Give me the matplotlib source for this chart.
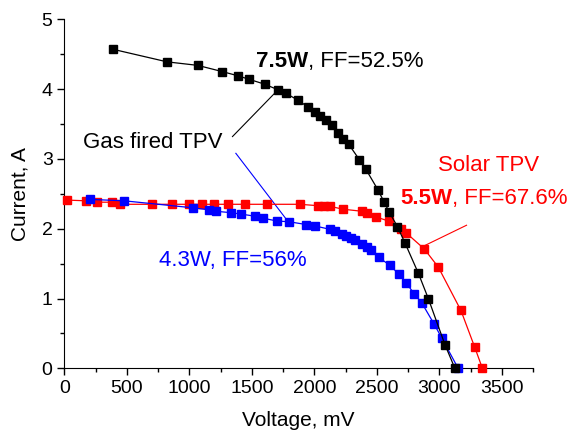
import matplotlib
matplotlib.use("Agg")
import matplotlib.pyplot as plt
from matplotlib import transforms
from matplotlib.ticker import MultipleLocator

plt.rcParams['font.family'] = ['Liberation Sans', 'DejaVu Sans']

# Gas fired TPV, 7.5 W
gas_v = [389, 822, 1066, 1265, 1390, 1478, 1603, 1709, 1771, 1871, 1951, 2004, 2049,
         2094, 2142, 2190, 2229, 2275, 2360, 2413, 2508, 2559, 2599, 2665, 2727, 2833,
         2912, 3045, 3125]
gas_i = [4.57, 4.39, 4.34, 4.25, 4.19, 4.14, 4.07, 3.99, 3.94, 3.84, 3.74, 3.67, 3.62,
         3.56, 3.49, 3.37, 3.29, 3.21, 2.99, 2.85, 2.56, 2.38, 2.24, 2.03, 1.79, 1.36,
         1.00, 0.34, 0.0]

# Gas fired TPV, 4.3 W
blue_v = [203, 477, 1026, 1159, 1213, 1332, 1412, 1523, 1590, 1704, 1797, 1935, 2004,
          2129, 2163, 2222, 2254, 2293, 2328, 2381, 2421, 2456, 2514, 2602, 2676, 2737,
          2798, 2859, 2960, 3018, 3151]
blue_i = [2.42, 2.40, 2.30, 2.27, 2.25, 2.23, 2.21, 2.18, 2.15, 2.11, 2.10, 2.06, 2.04,
          1.99, 1.97, 1.93, 1.90, 1.86, 1.84, 1.78, 1.74, 1.70, 1.59, 1.48, 1.35, 1.22,
          1.07, 0.94, 0.63, 0.44, 0.0]

# Solar TPV, 5.5 W
red_v = [22, 171, 261, 381, 442, 703, 862, 1000, 1098, 1199, 1313, 1444, 1619, 1882,
         2030, 2076, 2129, 2227, 2381, 2421, 2492, 2594, 2695, 2735, 2880, 2992, 3173,
         3284, 3345]
red_i = [2.41, 2.40, 2.38, 2.38, 2.35, 2.35, 2.35, 2.35, 2.35, 2.35, 2.35, 2.35, 2.35,
         2.35, 2.33, 2.32, 2.32, 2.28, 2.25, 2.22, 2.17, 2.11, 2.00, 1.94, 1.71, 1.45,
         0.83, 0.30, 0.0]

fig = plt.figure(figsize=(5.75, 4.38), dpi=100)
ax = fig.add_axes([0.112, 0.159, 0.815, 0.797])

ms = 5.5
ax.plot(red_v, red_i, color='red', marker='s', ms=ms, lw=0.9, clip_on=False, zorder=3)
ax.plot(blue_v, blue_i, color='blue', marker='s', ms=ms, lw=0.9, clip_on=False, zorder=3)
ax.plot(gas_v, gas_i, color='black', marker='s', ms=ms, lw=0.9, clip_on=False, zorder=4)

fs = 16


def two_part(x, y, bold, rest, color):
    # bold power value followed by plain text
    tb = ax.text(x, y, bold, fontsize=fs, fontweight='bold', color=color,
                 va='center', ha='left')
    fig.canvas.draw()
    w = tb.get_window_extent().width
    tr = transforms.offset_copy(ax.transData, fig=fig, x=w, units='dots')
    ax.text(x, y, rest, fontsize=fs, color=color, va='center', ha='left', transform=tr)


ax.text(145, 3.23, 'Gas fired TPV', fontsize=fs, va='center', ha='left')
ax.plot([1345, 1704], [3.32, 3.98], color='black', lw=0.8)
ax.plot([1372, 1791], [3.08, 2.10], color='blue', lw=0.8)
ax.text(2986, 2.91, 'Solar TPV', fontsize=fs, va='center', ha='left', color='red')
ax.plot([3218, 2873], [2.05, 1.75], color='red', lw=0.8)
ax.text(761, 1.55, '4.3W, FF=56%', fontsize=fs, va='center', ha='left', color='blue')

ax.set_xlim(0, 3750)
ax.set_ylim(0, 5)
ax.xaxis.set_major_locator(MultipleLocator(500))
ax.xaxis.set_minor_locator(MultipleLocator(250))
ax.yaxis.set_major_locator(MultipleLocator(1))
ax.yaxis.set_minor_locator(MultipleLocator(0.5))
ax.tick_params(which='major', direction='out', length=5, width=1, labelsize=14)
ax.tick_params(which='minor', direction='out', length=3, width=1)
ax.spines['top'].set_visible(False)
ax.spines['right'].set_visible(False)
ax.set_xlabel('Voltage, mV', fontsize=15, labelpad=10)
ax.set_ylabel('Current, A', fontsize=15, labelpad=9)

two_part(1536, 4.39, '7.5W', ', FF=52.5%', 'black')
two_part(2687, 2.43, '5.5W', ', FF=67.6%', 'red')

fig.savefig('out.png', dpi=100)
